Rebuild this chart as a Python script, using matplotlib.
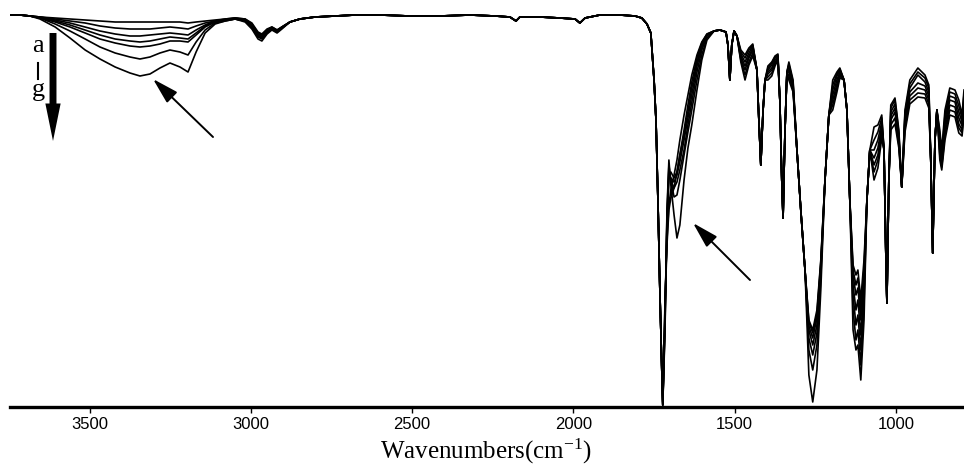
import matplotlib
matplotlib.use("Agg")
import matplotlib.pyplot as plt
from matplotlib import font_manager

# ---------------- data (transmittance, arbitrary units) -------------
wavenumber = [
    3747, 3716, 3685, 3654, 3607, 3561, 3514, 3468, 3421, 3375,
    3344, 3313, 3282, 3251, 3220, 3195, 3170, 3142, 3111, 3080,
    3049, 3018, 2997, 2978, 2966, 2950, 2935, 2919, 2904, 2879,
    2848, 2801, 2739, 2677, 2600, 2507, 2414, 2321, 2243, 2197,
    2178, 2166, 2104, 2042, 1995, 1980, 1964, 1918, 1856, 1809,
    1788, 1772, 1760, 1750, 1744, 1738, 1732, 1726, 1723, 1716,
    1710, 1704, 1698, 1688, 1679, 1670, 1657, 1645, 1633, 1617,
    1602, 1586, 1564, 1546, 1527, 1521, 1515, 1509, 1502, 1493,
    1481, 1468, 1456, 1444, 1431, 1425, 1419, 1412, 1406, 1397,
    1385, 1375, 1366, 1360, 1354, 1350, 1344, 1338, 1332, 1319,
    1307, 1295, 1282, 1270, 1258, 1245, 1233, 1220, 1208, 1196,
    1183, 1174, 1161, 1152, 1143, 1133, 1124, 1118, 1109, 1099,
    1090, 1081, 1068, 1056, 1044, 1037, 1031, 1028, 1022, 1016,
    1003, 991, 982, 972, 957, 932, 910, 898, 892, 886,
    879, 873, 864, 858, 848, 833, 817, 805, 795, 789,
]

T_a = [
    392, 392, 391, 390, 389, 388, 387, 386, 385, 385,
    385, 385, 385, 385, 385, 384, 385, 386, 387, 388,
    389, 388, 384, 375, 373, 378, 380, 377, 380, 385,
    388, 390, 391, 392, 392, 391, 391, 392, 391, 390,
    386, 390, 390, 389, 388, 384, 389, 392, 392, 391,
    389, 383, 374, 327, 287, 207, 117, 37, 5, 107,
    167, 202, 217, 232, 247, 267, 292, 312, 332, 352,
    365, 373, 376, 377, 375, 362, 327, 362, 376, 371,
    357, 352, 359, 363, 337, 287, 242, 297, 327, 341,
    345, 351, 353, 307, 227, 189, 277, 335, 345, 327,
    257, 197, 137, 87, 77, 97, 147, 227, 292, 327,
    335, 339, 327, 297, 207, 142, 132, 137, 107, 147,
    207, 257, 280, 282, 292, 257, 147, 104, 227, 302,
    309, 277, 220, 297, 327, 339, 332, 322, 247, 154,
    267, 297, 277, 257, 297, 319, 317, 307, 292, 317,
]
T_b = [
    392, 392, 391, 390, 388, 386, 384, 381, 379, 378,
    378, 378, 379, 380, 379, 378, 381, 384, 386, 388,
    389, 388, 383, 374, 372, 377, 380, 377, 380, 385,
    388, 390, 391, 392, 392, 391, 391, 392, 391, 390,
    386, 390, 390, 389, 388, 384, 389, 392, 392, 391,
    389, 383, 374, 327, 287, 207, 117, 37, 3, 102,
    162, 197, 209, 219, 235, 252, 277, 302, 325, 349,
    364, 373, 376, 377, 375, 362, 327, 362, 376, 371,
    355, 349, 357, 362, 337, 287, 242, 297, 327, 339,
    344, 350, 352, 307, 227, 189, 277, 335, 343, 325,
    257, 197, 137, 85, 74, 93, 145, 227, 292, 322,
    333, 338, 327, 297, 207, 137, 122, 129, 97, 139,
    207, 257, 267, 275, 289, 257, 147, 104, 227, 299,
    307, 274, 220, 294, 323, 335, 329, 319, 247, 154,
    267, 297, 272, 252, 292, 315, 313, 301, 289, 313,
]
T_c = [
    392, 392, 391, 390, 387, 384, 380, 376, 373, 371,
    371, 372, 373, 374, 373, 372, 377, 382, 386, 387,
    389, 387, 382, 373, 371, 376, 379, 376, 380, 385,
    388, 390, 391, 392, 392, 391, 391, 392, 391, 390,
    386, 390, 390, 389, 388, 384, 389, 392, 392, 391,
    389, 383, 374, 327, 287, 207, 117, 37, 2, 97,
    177, 229, 235, 229, 235, 252, 272, 295, 319, 345,
    362, 372, 376, 377, 375, 362, 327, 362, 376, 371,
    353, 345, 354, 361, 337, 287, 242, 297, 327, 337,
    342, 349, 351, 307, 227, 189, 277, 335, 341, 323,
    257, 197, 137, 81, 69, 89, 142, 227, 292, 317,
    331, 337, 327, 297, 207, 132, 112, 119, 87, 132,
    207, 257, 257, 267, 285, 257, 147, 104, 227, 295,
    303, 271, 220, 291, 319, 332, 325, 315, 247, 154,
    267, 297, 267, 249, 287, 311, 309, 295, 285, 309,
]
T_d = [
    392, 392, 391, 389, 386, 382, 377, 372, 368, 366,
    365, 366, 368, 370, 369, 368, 374, 381, 385, 387,
    388, 387, 381, 372, 370, 376, 379, 376, 379, 385,
    388, 390, 391, 392, 392, 391, 391, 392, 391, 390,
    386, 390, 390, 389, 388, 384, 389, 392, 392, 391,
    389, 383, 374, 327, 287, 207, 117, 37, 2, 92,
    182, 232, 229, 225, 232, 245, 267, 289, 312, 341,
    360, 372, 376, 377, 375, 362, 327, 362, 376, 371,
    351, 341, 351, 359, 337, 287, 242, 297, 327, 335,
    339, 347, 350, 307, 227, 189, 277, 335, 337, 321,
    257, 197, 137, 77, 62, 82, 139, 227, 292, 312,
    327, 335, 327, 297, 207, 122, 97, 107, 72, 122,
    207, 257, 249, 259, 281, 257, 147, 104, 227, 291,
    299, 268, 220, 287, 315, 324, 321, 311, 247, 154,
    267, 297, 262, 245, 282, 307, 305, 289, 281, 305,
]
T_e = [
    392, 392, 391, 389, 385, 380, 374, 368, 364, 361,
    360, 361, 363, 366, 366, 365, 372, 380, 385, 387,
    388, 386, 380, 371, 369, 375, 378, 375, 379, 385,
    388, 390, 391, 392, 392, 391, 391, 392, 391, 390,
    386, 390, 390, 389, 388, 384, 389, 392, 392, 391,
    389, 383, 374, 327, 287, 207, 117, 37, 2, 87,
    187, 237, 227, 219, 225, 237, 257, 282, 305, 335,
    357, 371, 376, 377, 375, 362, 327, 362, 376, 371,
    349, 337, 349, 357, 337, 287, 242, 297, 327, 333,
    337, 345, 349, 307, 227, 189, 277, 335, 335, 319,
    257, 197, 137, 69, 52, 74, 135, 227, 292, 307,
    323, 333, 327, 297, 207, 112, 82, 92, 57, 112,
    207, 257, 242, 252, 277, 257, 147, 104, 227, 287,
    295, 265, 220, 283, 311, 319, 317, 307, 247, 154,
    267, 297, 257, 242, 277, 302, 300, 283, 277, 301,
]
T_f = [
    392, 392, 391, 389, 383, 376, 368, 360, 354, 350,
    348, 350, 354, 357, 355, 352, 365, 377, 384, 386,
    388, 386, 379, 370, 368, 374, 378, 375, 379, 385,
    388, 390, 391, 392, 392, 391, 391, 392, 391, 390,
    386, 390, 390, 389, 388, 384, 389, 392, 392, 391,
    389, 383, 374, 327, 287, 207, 117, 37, 2, 82,
    192, 242, 227, 210, 212, 227, 252, 275, 297, 327,
    352, 369, 376, 377, 375, 362, 327, 362, 376, 371,
    347, 332, 345, 354, 337, 287, 242, 297, 327, 330,
    334, 343, 348, 307, 227, 189, 277, 335, 331, 317,
    257, 197, 137, 57, 37, 62, 129, 227, 292, 302,
    319, 331, 327, 297, 207, 97, 67, 77, 42, 102,
    207, 257, 235, 247, 273, 257, 147, 104, 227, 282,
    289, 262, 220, 279, 307, 314, 313, 303, 247, 154,
    267, 297, 252, 240, 272, 297, 295, 279, 274, 297,
]
T_g = [
    392, 392, 391, 388, 380, 369, 357, 348, 340, 334,
    331, 333, 339, 344, 340, 335, 355, 374, 383, 386,
    388, 385, 378, 368, 366, 373, 377, 374, 378, 385,
    388, 390, 391, 392, 392, 391, 391, 392, 391, 390,
    386, 390, 390, 389, 388, 384, 389, 392, 392, 391,
    389, 383, 374, 327, 287, 207, 117, 37, 2, 77,
    197, 247, 222, 192, 169, 182, 227, 259, 282, 317,
    347, 367, 376, 377, 375, 362, 327, 362, 376, 371,
    345, 327, 342, 351, 337, 287, 242, 297, 327, 327,
    331, 341, 347, 307, 227, 189, 277, 335, 327, 315,
    257, 197, 137, 32, 5, 37, 117, 227, 292, 297,
    315, 329, 327, 297, 207, 77, 57, 62, 27, 87,
    207, 257, 227, 239, 269, 257, 147, 104, 227, 277,
    283, 259, 220, 275, 303, 310, 309, 299, 247, 154,
    267, 297, 247, 237, 267, 292, 290, 274, 271, 293,
]

sample_labels = ["a", "b", "c", "d", "e", "f", "g"]
spectra = [T_a, T_b, T_c, T_d, T_e, T_f, T_g]
xtick_values = [3500, 3000, 2500, 2000, 1500, 1000]

# ---------------- fonts ----------------
installed = {f.name for f in font_manager.fontManager.ttflist}
tick_font = "Liberation Sans Narrow" if "Liberation Sans Narrow" in installed else "Liberation Sans"
serif_font = "Liberation Serif"
plt.rcParams["mathtext.fontset"] = "custom"
plt.rcParams["mathtext.rm"] = serif_font
plt.rcParams["mathtext.it"] = serif_font + ":italic"
plt.rcParams["mathtext.default"] = "rm"

W, H = 964, 472
fig = plt.figure(figsize=(W / 100, H / 100), dpi=100)


def fx(px):
    return px / W


def fy(py):
    return 1 - py / H


ax = fig.add_axes([fx(10), fy(407), fx(954), 400 / H])

for lab, T in zip(sample_labels, spectra):
    assert len(T) == len(wavenumber), lab
    ax.plot(wavenumber, T, color="black", lw=1.2, solid_joinstyle="round")

ax.set_xlim(3747, 789)
ax.set_ylim(0, 400)
for s in ("top", "left", "right"):
    ax.spines[s].set_visible(False)
ax.spines["bottom"].set_linewidth(2.4)
ax.set_yticks([])
ax.set_xticks(xtick_values)
ax.set_xticklabels([str(v) for v in xtick_values], fontfamily=tick_font, fontsize=12)
ax.tick_params(axis="x", direction="out", length=4, width=1, pad=3)

fig.text(fx(486), fy(451), r"Wavenumbers(cm$^{-1}$)", ha="center", va="center",
         fontfamily=serif_font, fontsize=18)

# series order indicator a | g with thick arrow
fig.text(fx(38), fy(46), "a", ha="center", va="center", fontfamily=serif_font, fontsize=19)
fig.add_artist(plt.Line2D([fx(38), fx(38)], [fy(63), fy(79)], color="black", lw=1.5))
fig.text(fx(38), fy(90), "g", ha="center", va="center", fontfamily=serif_font, fontsize=19)
ax.annotate("", xy=(fx(53), fy(141)), xycoords="figure fraction",
            xytext=(fx(53), fy(33)), textcoords="figure fraction",
            arrowprops=dict(arrowstyle="simple,head_length=2.7,head_width=1.1,tail_width=0.5",
                            mutation_scale=10, color="black", shrinkA=0, shrinkB=0, lw=0))

# thin arrows pointing to the growing bands
for tail, tip in [((213, 137), (153, 79)), ((750, 280), (693, 223))]:
    ax.annotate("", xy=(fx(tip[0]), fy(tip[1])), xycoords="figure fraction",
                xytext=(fx(tail[0]), fy(tail[1])), textcoords="figure fraction",
                arrowprops=dict(arrowstyle="-|>,head_length=1.6,head_width=0.45",
                                mutation_scale=10, color="black", lw=1.4,
                                shrinkA=0, shrinkB=0))

fig.savefig("out.png", dpi=100)
